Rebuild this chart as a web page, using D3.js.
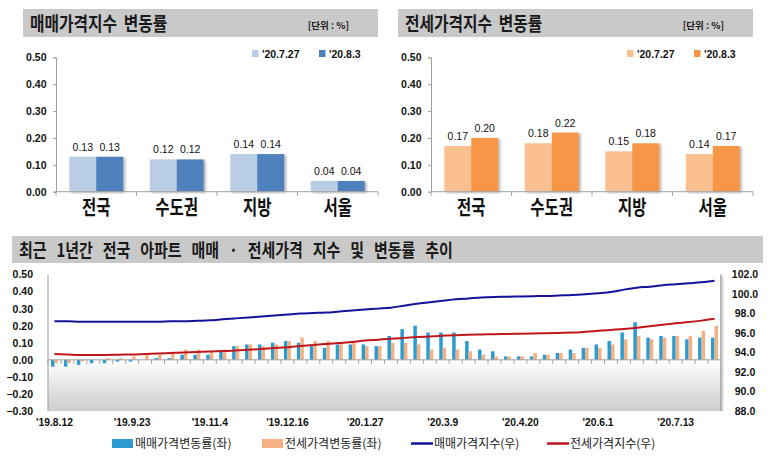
<!DOCTYPE html>
<html><head><meta charset="utf-8">
<script src="https://cdn.jsdelivr.net/npm/d3@7"></script>
<style>
body{margin:0;background:#fff;}
svg{display:block;}
.kr{font-family:"Noto Sans CJK KR","Noto Sans",sans-serif;}
.num{font-family:"Liberation Sans",Arial,sans-serif;}
</style></head><body>
<svg id="c" width="776" height="460"></svg>
<script>
// ---------- data: top panels ----------
const regions = ["전국","수도권","지방","서울"];
const legendDates = ["'20.7.27","'20.8.3"];
const sale0727 = [0.13,0.12,0.14,0.04];
const sale0803 = [0.13,0.12,0.14,0.04];
const jeonse0727 = [0.17,0.18,0.15,0.14];
const jeonse0803 = [0.20,0.22,0.18,0.17];
const topTicks = [0,0.1,0.2,0.3,0.4,0.5];

// ---------- data: bottom panel (weekly) ----------
const weeks = ["'19.8.12","'19.8.19","'19.8.26","'19.9.2","'19.9.9","'19.9.16","'19.9.23","'19.9.30",
 "'19.10.7","'19.10.14","'19.10.21","'19.10.28","'19.11.4","'19.11.11","'19.11.18","'19.11.25",
 "'19.12.2","'19.12.9","'19.12.16","'19.12.23","'19.12.30","'20.1.6","'20.1.13","'20.1.20","'20.1.27",
 "'20.2.3","'20.2.10","'20.2.17","'20.2.24","'20.3.2","'20.3.9","'20.3.16","'20.3.23","'20.3.30",
 "'20.4.6","'20.4.13","'20.4.20","'20.4.27","'20.5.4","'20.5.11","'20.5.18","'20.5.25",
 "'20.6.1","'20.6.8","'20.6.15","'20.6.22","'20.6.29","'20.7.6","'20.7.13","'20.7.20","'20.7.27","'20.8.3"];
const tickWeeks = ["'19.8.12","'19.9.23","'19.11.4","'19.12.16","'20.1.27","'20.3.9","'20.4.20","'20.6.1","'20.7.13"];
const saleRate = [-0.04,-0.04,-0.03,-0.02,-0.02,-0.01,-0.01,0.00,0.01,0.01,0.03,0.03,0.03,0.05,0.08,0.09,
 0.09,0.10,0.11,0.10,0.08,0.07,0.09,0.09,0.09,0.08,0.14,0.18,0.20,0.16,0.16,0.16,0.11,0.06,
 0.05,0.02,0.02,0.02,0.03,0.04,0.06,0.07,0.09,0.11,0.16,0.22,0.13,0.14,0.14,0.12,0.13,0.13];
const jeonseRate = [-0.02,-0.02,-0.01,0.00,0.01,0.01,0.02,0.03,0.03,0.04,0.06,0.06,0.05,0.06,0.08,0.09,
 0.08,0.09,0.11,0.13,0.11,0.11,0.10,0.10,0.08,0.08,0.10,0.10,0.09,0.06,0.07,0.06,0.05,0.03,
 0.02,0.02,0.02,0.04,0.03,0.04,0.04,0.07,0.07,0.09,0.12,0.14,0.12,0.13,0.14,0.14,0.17,0.20];
const saleIndex = [97.2,97.2,97.15,97.15,97.15,97.15,97.15,97.15,97.15,97.2,97.2,97.25,97.3,97.4,97.5,97.6,
 97.7,97.8,97.9,98.0,98.05,98.1,98.2,98.3,98.4,98.5,98.6,98.8,99.0,99.15,99.3,99.45,99.55,99.65,
 99.7,99.72,99.75,99.78,99.8,99.85,99.9,99.98,100.08,100.2,100.45,100.65,100.75,100.9,101.0,101.1,101.2,101.35];
const jeonseIndex = [93.85,93.8,93.75,93.75,93.75,93.78,93.8,93.85,93.9,93.95,94.0,94.05,94.1,94.15,94.2,94.28,
 94.36,94.45,94.55,94.67,94.78,94.88,94.98,95.08,95.22,95.32,95.42,95.5,95.58,95.65,95.72,95.78,95.82,95.85,
 95.88,95.9,95.93,95.96,95.98,96.01,96.04,96.12,96.22,96.32,96.42,96.55,96.7,96.85,97.0,97.12,97.27,97.45];
const leftTicks = [0.5,0.4,0.3,0.2,0.1,0.0,-0.1,-0.2,-0.3];
const rightTicks = [102,100,98,96,94,92,90,88];
const legendNames = ["매매가격변동률(좌)","전세가격변동률(좌)","매매가격지수(우)","전세가격지수(우)"];

const svg = d3.select("#c");
const defs = svg.append("defs");
const sh = defs.append("filter").attr("id","shadow").attr("x","-20%").attr("y","-20%").attr("width","150%").attr("height","140%");
sh.append("feDropShadow").attr("dx",2).attr("dy",1).attr("stdDeviation",1.2).attr("flood-color","#000").attr("flood-opacity",0.3);
const grad = defs.append("linearGradient").attr("id","plotbg").attr("x1",0).attr("y1",0).attr("x2",0).attr("y2",1);
grad.append("stop").attr("offset","0%").attr("stop-color","#ffffff");
grad.append("stop").attr("offset","62%").attr("stop-color","#ffffff");
grad.append("stop").attr("offset","100%").attr("stop-color","#cdcdcd");

function header(x, y, w, h, title, fs, ws, unit){
  svg.append("rect").attr("x",x).attr("y",y).attr("width",w).attr("height",h).attr("fill","#c9c9c9");
  const ty = y + h - 6;
  svg.append("text").attr("class","kr").attr("x",x+7).attr("y",0)
    .attr("transform",`translate(0,${ty}) scale(1,1.2)`)
    .attr("font-size",fs).attr("font-weight","bold").attr("fill","#1a1a1a")
    .style("word-spacing",ws+"px").text(title);
  if(unit){
    svg.append("text").attr("class","kr").attr("x",x+w-29).attr("y",y+19.5).attr("text-anchor","end")
      .attr("font-size",9.5).attr("font-weight","bold").attr("fill","#1a1a1a").text(unit);
  }
}

function topPanel(x0, x1, title, s1, s2, c1, c2){
  const yTop = 57.3, yBot = 191.7;
  header(x0-33, 9, x1-x0+33, 28, title, 15.8, 3, "[단위 : %]");
  const y = d3.scaleLinear().domain([0,0.5]).range([yBot,yTop]);
  const x = d3.scaleBand().domain(regions).range([x0,x1]).paddingInner(0.33).paddingOuter(0.165);
  const xs = d3.scaleBand().domain([0,1]).range([0,x.bandwidth()]);
  // y axis
  const ya = d3.axisLeft(y).tickValues(topTicks).tickSize(3).tickFormat(d3.format(".2f"));
  const yg = svg.append("g").attr("transform",`translate(${x0},0)`).call(ya);
  yg.select(".domain").attr("stroke","#a0a0a0");
  yg.selectAll(".tick line").attr("stroke","#a0a0a0");
  yg.selectAll(".tick text").attr("class","num").attr("font-size",10.5).attr("font-weight","bold").attr("fill","#111").attr("x",-9.5);
  // bars
  const bg = svg.append("g").attr("filter","url(#shadow)");
  [s1,s2].forEach((s,k)=>{
    bg.selectAll(null).data(s).enter().append("rect")
      .attr("x",(d,i)=>x(regions[i])+xs(k)).attr("width",xs.bandwidth())
      .attr("y",d=>y(d)).attr("height",d=>yBot-y(d)).attr("fill",k?c2:c1);
  });
  [s1,s2].forEach((s,k)=>{
    svg.selectAll(null).data(s).enter().append("text").attr("class","num")
      .attr("x",(d,i)=>x(regions[i])+xs(k)+xs.bandwidth()/2).attr("y",d=>y(d)-6)
      .attr("text-anchor","middle").attr("font-size",10.5).attr("fill","#111").text(d=>d.toFixed(2));
  });
  // x axis
  svg.append("line").attr("x1",x0).attr("x2",x1).attr("y1",yBot).attr("y2",yBot).attr("stroke","#a0a0a0");
  const bounds = regions.map(r=>x(r)-x.step()*x.paddingInner()/2).concat([x1]);
  svg.selectAll(null).data(bounds).enter().append("line")
    .attr("x1",d=>d).attr("x2",d=>d).attr("y1",yBot).attr("y2",yBot+4).attr("stroke","#a0a0a0");
  svg.selectAll(null).data(regions).enter().append("text").attr("class","kr")
    .attr("x",d=>x(d)+x.bandwidth()/2).attr("y",0)
    .attr("transform",`translate(0,214.5) scale(1,1.3)`)
    .attr("text-anchor","middle").attr("font-size",15.5).attr("font-weight","bold").attr("fill","#111").text(d=>d);
  // legend
  const lx = [x1-126, x1-59];
  legendDates.forEach((t,k)=>{
    svg.append("rect").attr("x",lx[k]).attr("y",50).attr("width",6.5).attr("height",7).attr("fill",k?c2:c1);
    svg.append("text").attr("class","num").attr("x",lx[k]+10).attr("y",57.5)
      .attr("font-size",10.5).attr("font-weight","bold").attr("fill","#111").text(t);
  });
}

topPanel(56, 378, "매매가격지수 변동률", sale0727, sale0803, "#b9cde5", "#4f81bd");
topPanel(431, 753, "전세가격지수 변동률", jeonse0727, jeonse0803, "#fac090", "#f79646");

// ---------- bottom panel ----------
header(12, 236, 751, 27, "최근 1년간 전국 아파트 매매 · 전세가격 지수 및 변동률 추이", 15, 6.5, null);
const bx0 = 48, bx1 = 721, byT = 274.5, byB = 411;
const yL = d3.scaleLinear().domain([-0.3,0.5]).range([byB,byT]);
const yR = d3.scaleLinear().domain([88,102]).range([byB,byT]);
const xb = d3.scaleBand().domain(weeks).range([bx0,bx1]);
const pair = xb.step()*0.54;
const xi = d3.scaleBand().domain(["s","j"]).range([(xb.step()-pair)/2,(xb.step()+pair)/2]);

svg.append("rect").attr("x",bx0).attr("y",byT).attr("width",bx1-bx0).attr("height",byB-byT).attr("fill","url(#plotbg)");
svg.append("line").attr("x1",bx0).attr("x2",bx0).attr("y1",byT).attr("y2",byB).attr("stroke","#a8a8a8").attr("stroke-width",1.2);
svg.append("line").attr("x1",bx1).attr("x2",bx1).attr("y1",byT).attr("y2",byB).attr("stroke","#a0a0a0").attr("stroke-width",1.5);
svg.append("line").attr("x1",bx1+1.8).attr("x2",bx1+1.8).attr("y1",byT+2).attr("y2",byB).attr("stroke","#dadada").attr("stroke-width",1.5);

// left axis labels
const la = d3.axisLeft(yL).tickValues(leftTicks).tickSize(0).tickPadding(15).tickFormat(d3.format(".2f"));
const lag = svg.append("g").attr("transform",`translate(${bx0},0)`).call(la);
lag.select(".domain").remove();
lag.selectAll(".tick text").attr("class","num").attr("font-size",10.5).attr("font-weight","bold").attr("fill","#111");
// right axis labels
const ra = d3.axisRight(yR).tickValues(rightTicks).tickSize(0).tickPadding(0).tickFormat(d3.format(".1f"));
const rag = svg.append("g").attr("transform",`translate(745,0)`).call(ra);
rag.select(".domain").remove();
rag.selectAll(".tick text").attr("class","num").attr("text-anchor","middle").attr("font-size",10.5).attr("font-weight","bold").attr("fill","#111");

// bars
[[saleRate,"s","#2b9bd0"],[jeonseRate,"j","#f4b183"]].forEach(([arr,k,col])=>{
  svg.selectAll(null).data(arr).enter().append("rect")
    .attr("x",(d,i)=>xb(weeks[i])+xi(k)).attr("width",xi.bandwidth())
    .attr("y",d=>Math.min(yL(d),yL(0))).attr("height",d=>Math.abs(yL(d)-yL(0)))
    .attr("fill",col);
});
// zero axis + ticks
svg.append("line").attr("x1",bx0).attr("x2",bx1).attr("y1",yL(0)).attr("y2",yL(0)).attr("stroke","#a0a0a0");
svg.selectAll(null).data(weeks).enter().append("line")
  .attr("x1",d=>xb(d)).attr("x2",d=>xb(d)).attr("y1",yL(0)).attr("y2",yL(0)+4).attr("stroke","#a0a0a0");
// lines
const lineGen = d3.line().x((d,i)=>xb(weeks[i])+xb.step()/2).y(d=>yR(d)).curve(d3.curveMonotoneX);
svg.append("path").attr("d",lineGen(saleIndex)).attr("fill","none").attr("stroke","#12129a").attr("stroke-width",2);
svg.append("path").attr("d",lineGen(jeonseIndex)).attr("fill","none").attr("stroke","#c0171c").attr("stroke-width",2);
// x labels
const xa = d3.axisBottom(xb).tickValues(tickWeeks).tickSize(0).tickPadding(8);
const xag = svg.append("g").attr("transform",`translate(0,${byB})`).call(xa);
xag.select(".domain").remove();
xag.selectAll(".tick text").attr("class","num").attr("font-size",10.3).attr("font-weight","bold").attr("fill","#111");

// legend
const legX = [112, 262, 411, 547];
const legCol = ["#2b9bd0","#f4b183","#12129a","#c0171c"];
legendNames.forEach((t,k)=>{
  if(k<2){
    svg.append("rect").attr("x",legX[k]).attr("y",439).attr("width",21).attr("height",9).attr("fill",legCol[k]);
  } else {
    svg.append("line").attr("x1",legX[k]).attr("x2",legX[k]+22).attr("y1",443.5).attr("y2",443.5).attr("stroke",legCol[k]).attr("stroke-width",2.5);
  }
  svg.append("text").attr("class","kr").attr("x",legX[k]+23).attr("y",448)
    .attr("font-size",12).attr("fill","#222").text(t);
});
</script>
</body></html>
